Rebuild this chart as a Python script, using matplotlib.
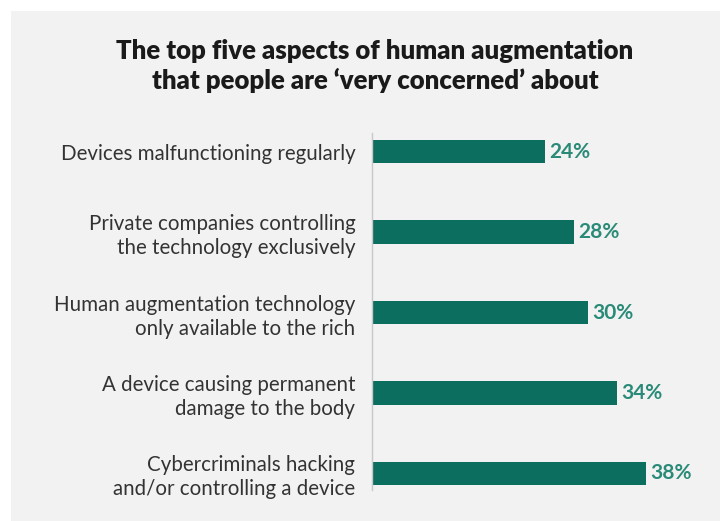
import matplotlib
matplotlib.use("Agg")
import matplotlib.pyplot as plt
from matplotlib.patches import Rectangle

# data
labels = [
    "Devices malfunctioning regularly",
    "Private companies controlling\nthe technology exclusively",
    "Human augmentation technology\nonly available to the rich",
    "A device causing permanent\ndamage to the body",
    "Cybercriminals hacking\nand/or controlling a device",
]
values = [24, 28, 30, 34, 38]

title = "The top five aspects of human augmentation\nthat people are \u2018very concerned\u2019 about"

bar_color = "#0b6e5f"
value_color = "#2a8a78"
panel_color = "#f2f2f2"

plt.rcParams["font.family"] = ["Lato", "DejaVu Sans"]

fig = plt.figure(figsize=(7.2, 5.21), dpi=100)
fig.patch.set_facecolor("white")
# light grey card behind the chart
fig.patches.append(Rectangle((11 / 720, 0), 1, 1 - 11 / 521, transform=fig.transFigure,
                             facecolor=panel_color, edgecolor="none", zorder=-10))

ax = fig.add_axes([372 / 720, 1 - 490 / 521, 288 / 720, 357 / 521])
ax.set_facecolor("none")

y = list(range(len(values)))
ax.barh(y, values, height=0.29, color=bar_color)

for yi, v in zip(y, values):
    ax.text(v + 0.65, yi, f"{v}%", va="center", ha="left", fontsize=15,
            fontweight="bold", color=value_color)

ax.set_xlim(0, 40)
ax.set_ylim(4.205, -0.23)
ax.set_yticks(y)
ax.set_yticklabels(labels, fontsize=14.8, color="#333333", linespacing=1.25)
ax.tick_params(axis="y", length=0, pad=12)
ax.set_xticks([])
for s in ["top", "right", "bottom"]:
    ax.spines[s].set_visible(False)
ax.spines["left"].set_color("#c8c8cc")
ax.spines["left"].set_linewidth(1)

fig.text(375 / 720, 1 - 66 / 521, title, ha="center", va="center", fontsize=18.5,
         fontweight="heavy", color="#1a1a1a", linespacing=1.25)

fig.savefig("out.png", dpi=100, facecolor=fig.get_facecolor())
